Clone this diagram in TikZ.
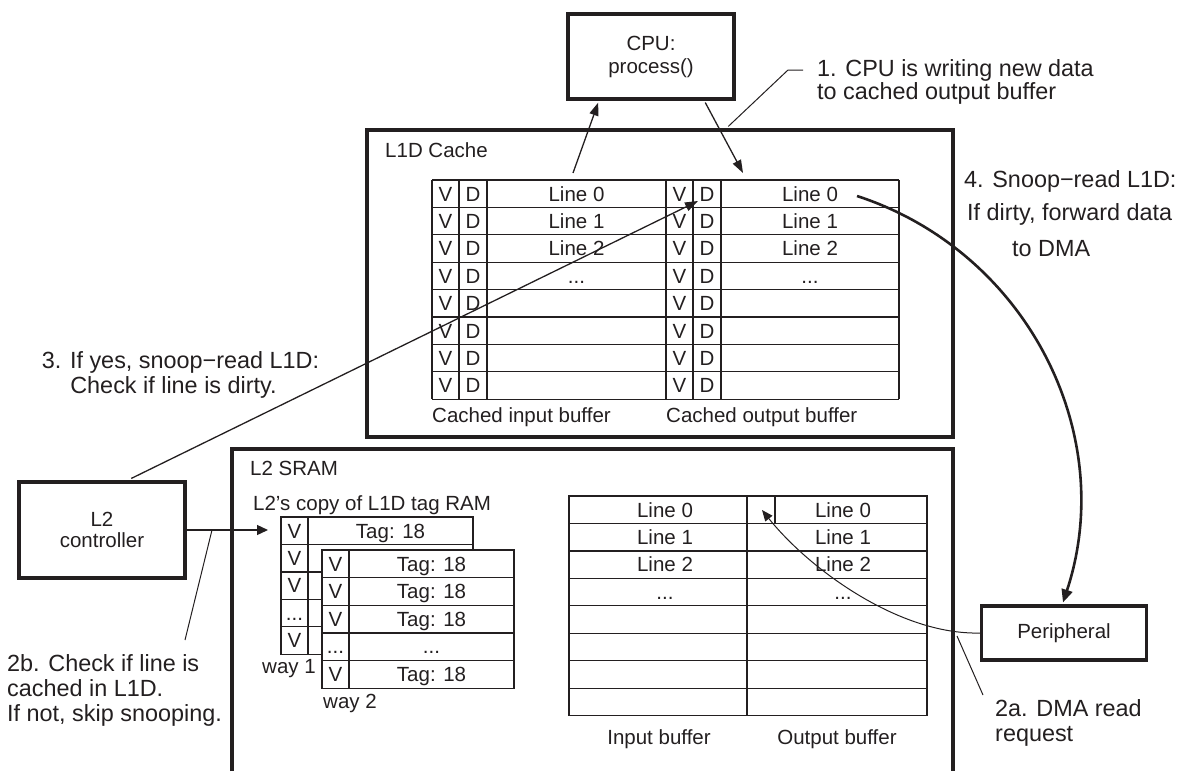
\documentclass[tikz,border=0pt]{standalone}
\usepackage{fontspec}
\setmainfont{Liberation Sans}
\usetikzlibrary{arrows.meta,calc}
\definecolor{ink}{RGB}{35,31,32}
\newcommand\fsin{\fontsize{20.5}{23}\selectfont}
\newcommand\fslab{\fontsize{23.4}{25}\selectfont}
\begin{document}
\begin{tikzpicture}[x=1pt,y=-1pt,
  thickbox/.style={draw=ink,line width=3.5pt,inner sep=0pt,align=center,font=\fsin,text=ink},
  tbl/.style={draw=ink,line width=1.2pt},
  cell/.style={inner sep=0pt,font=\fsin,text=ink,anchor=base},
  lab/.style={inner sep=0pt,font=\fslab,text=ink,anchor=base west},
  labc/.style={inner sep=0pt,font=\fslab,text=ink,anchor=base},
  arr/.style={draw=ink,line width=1.3pt,-{Triangle[length=13pt,width=9pt]}},
  callout/.style={draw=ink,line width=1pt},
]
\useasboundingbox (0,0) rectangle (1177,771);

% CPU
\node[thickbox,minimum width=166pt,minimum height=85pt] (cpu) at (651,56.5) {CPU:\\process()};

% L1D cache
\node[thickbox,minimum width=586pt,minimum height=307pt] (l1d) at (660,283.5) {};
\node[lab,font=\fsin] (l1dlab) at (385,157) {L1D Cache};
\foreach \r in {0,...,8}{\draw[tbl] (432,{180+27.4*\r}) -- (899,{180+27.4*\r});}
\foreach \x in {432,459,487,666,693,721,899}{\draw[tbl] (\x,180) -- (\x,399.2);}
\foreach \r in {0,...,7}{
  \node[cell] (iv\r) at (445.5,{201+27.4*\r}) {V};
  \node[cell] (id\r) at (473,{201+27.4*\r}) {D};
  \node[cell] (ov\r) at (679.5,{201+27.4*\r}) {V};
  \node[cell] (od\r) at (707,{201+27.4*\r}) {D};
}
\foreach \r in {0,1,2}{
  \node[cell] (il\r) at (576.5,{201+27.4*\r}) {Line \r};
  \node[cell] (ol\r) at (810,{201+27.4*\r}) {Line \r};
}
\node[cell] (il3) at (576.5,{201+27.4*3}) {...};
\node[cell] (ol3) at (810,{201+27.4*3}) {...};
\node[lab,font=\fsin] (cib) at (432,422) {Cached input buffer};
\node[lab,font=\fsin] (cob) at (666,422) {Cached output buffer};

% L2 SRAM
\draw[ink,line width=3.5pt] (232,771) -- (232,449) -- (953,449) -- (953,771);
\node[lab,font=\fsin] (l2lab) at (250,475) {L2 SRAM};
\node[lab,font=\fsin] (taglab) at (253,510.7) {L2’s copy of L1D tag RAM};

% way 1
\draw[tbl] (281,517) rectangle (473,654.2);
\foreach \r in {1,...,4}{\draw[tbl] (281,{517+27.45*\r}) -- (473,{517+27.45*\r});}
\draw[tbl] (308,517) -- (308,654.2);
\foreach \r in {0,1,2,4}{\node[cell] (wav\r) at (294.5,{538+27.45*\r}) {V};}
\node[cell] (wav3) at (294.5,{538+27.45*3}) {...};
\node[cell] (wat0) at (390.5,538) {Tag: 18};

% way 2
\fill[white] (322,550) rectangle (514,688.3);
\draw[tbl] (322,550) rectangle (514,688.3);
\foreach \r in {1,...,4}{\draw[tbl] (322,{550+27.66*\r}) -- (514,{550+27.66*\r});}
\draw[tbl] (349,550) -- (349,688.3);
\foreach \r in {0,1,2,4}{
  \node[cell] (wbv\r) at (335.5,{571+27.66*\r}) {V};
  \node[cell] (wbt\r) at (431.5,{571+27.66*\r}) {Tag: 18};
}
\node[cell] (wbv3) at (335.5,{571+27.66*3}) {...};
\node[cell] (wbt3) at (431.5,{571+27.66*3}) {...};
\node[lab,font=\fsin] (w1) at (262,673) {way 1};
\node[lab,font=\fsin] (w2) at (323,708) {way 2};

% buffers in L2
\draw[tbl] (569,496) rectangle (927,715.7);
\foreach \r in {1,...,7}{\draw[tbl] (569,{496+27.46*\r}) -- (927,{496+27.46*\r});}
\draw[tbl] (747,496) -- (747,715.7);
\draw[tbl] (775,496) -- (775,523.46);
\foreach \r in {0,1,2}{
  \node[cell] (bl\r) at (665,{517+27.46*\r}) {Line \r};
  \node[cell] (br\r) at (843,{517+27.46*\r}) {Line \r};
}
\node[cell] (bl3) at (665,{517+27.46*3}) {...};
\node[cell] (br3) at (843,{517+27.46*3}) {...};
\node[labc,font=\fsin] (ib) at (659,744) {Input buffer};
\node[labc,font=\fsin] (ob) at (837,744) {Output buffer};

% L2 controller and peripheral
\node[thickbox,minimum width=166pt,minimum height=96pt,font=\fontsize{20.5}{20.5}\selectfont] (l2c) at (102,530) {L2\\controller};
\node[thickbox,minimum width=165pt,minimum height=54pt] (per) at (1064,633) {Peripheral};

% CPU arrows
\coordinate (a0s) at (573,173);
\draw[arr] (a0s) -- ($(cpu.south west)+(32,1.8)$);
\coordinate (a1e) at (743,173);
\draw[arr] ($(cpu.south west)+(139,1.8)$) -- (a1e);

% callout 1
\coordinate (c1k) at (788,70);
\draw[callout] ($(l1d.north west)+(363,-1.8)$) -- (c1k) -- ++(15,0);
\node[lab,align=left,font=\fontsize{23.4}{20}\selectfont] (t1) at (817,99.3) {1. CPU is writing new data\\to cached output buffer};

% arrow 3
\coordinate (a3e) at (698,201);
\draw[arr] ($(l2c.north west)+(114,-1.8)$) -- (a3e);
\node[labc] (t3a) at (180.5,368.3) {3. If yes, snoop−read L1D:};
\node[labc] (t3b) at (173.5,393.3) {Check if line is dirty.};

% arrow 4
\coordinate (a4s) at (857,196);
\draw[ink,line width=2.6pt,-{Triangle[length=13pt,width=11pt]}] (a4s) .. controls (1026,251) and (1119,433) .. ($(per.north)+(-1,-1.8)$);
\node[lab] (t4a) at (964,187) {4. Snoop−read L1D:};
\node[lab] (t4b) at (967,220) {If dirty, forward data};
\node[lab] (t4c) at (1012,256) {to DMA};

% arrow 2a
\coordinate (a2e) at (762,510);
\draw[draw=ink,line width=1pt,-{Triangle[length=11pt,width=9pt]}] (per.west) .. controls (900,635) and (810,570) .. (a2e);
\coordinate (c2a) at (957,636);
\coordinate (c2b) at (983,695);
\draw[callout] (c2a) -- (c2b);
\node[lab] (t2a1) at (995,716.7) {2a. DMA read};
\node[lab] (t2a2) at (995,741) {request};

% arrow 2b
\coordinate (a5e) at (268,530);
\draw[arr,-{Triangle[length=11pt,width=10pt]}] (l2c.east) -- (a5e);
\coordinate (c3a) at (185,640);
\coordinate (c3b) at (212,530);
\draw[callout] (c3a) -- (c3b);
\node[lab] (t2b1) at (7,671.7) {2b. Check if line is};
\node[lab] (t2b2) at (7,696) {cached in L1D.};
\node[lab] (t2b3) at (7,721.7) {If not, skip snooping.};
\end{tikzpicture}
\end{document}
